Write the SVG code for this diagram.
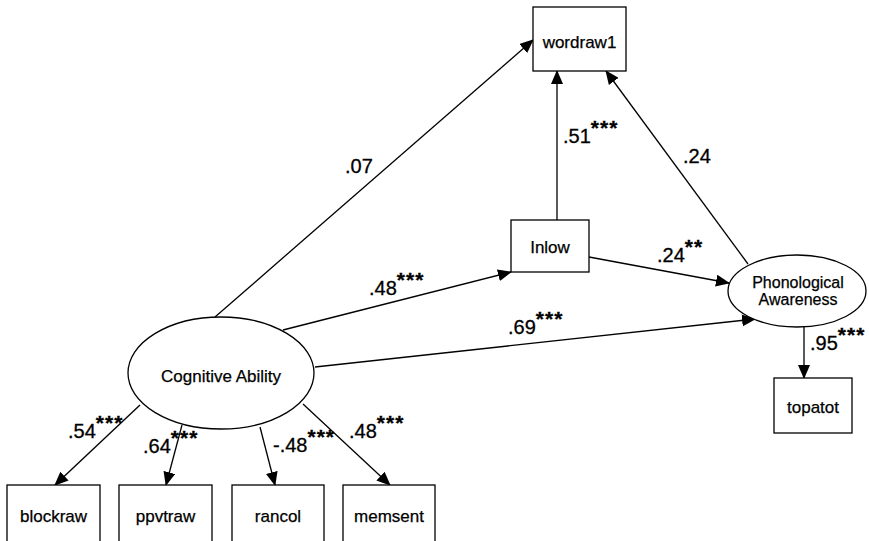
<svg xmlns="http://www.w3.org/2000/svg" width="869" height="541" viewBox="0 0 869 541">
<defs>
<marker id="ah" markerWidth="14" markerHeight="12" refX="13" refY="6" orient="auto" markerUnits="userSpaceOnUse"><path d="M0,0 L14,6 L0,12 z" fill="#000"/></marker>
</defs>
<style>
.box{fill:#fff;stroke:#000;stroke-width:1.3}
.nl{font-family:"Liberation Sans",Arial,sans-serif;font-size:17px;fill:#000;text-anchor:middle;stroke:#000;stroke-width:0.25}
.pl{font-family:"Liberation Sans",Arial,sans-serif;font-size:16px;fill:#000;text-anchor:middle;stroke:#000;stroke-width:0.25}
.el{font-family:"Liberation Sans",Arial,sans-serif;font-size:20px;fill:#000;stroke:#000;stroke-width:0.3}
.st{font-size:21px;letter-spacing:1px;font-weight:bold}
.cn line{stroke:#000;stroke-width:1.3;marker-end:url(#ah)}
</style>
<rect width="869" height="541" fill="#fff"/>
<g class="cn" id="connectors">
<line x1="215" y1="317" x2="533" y2="40"/>
<line x1="283" y1="330" x2="511" y2="272"/>
<line x1="315" y1="367" x2="755" y2="319"/>
<line x1="557" y1="220" x2="557" y2="71"/>
<line x1="748" y1="264" x2="606" y2="71"/>
<line x1="589" y1="257" x2="729" y2="283"/>
<line x1="804" y1="327" x2="804" y2="378"/>
<line x1="140" y1="405" x2="55" y2="485"/>
<line x1="182" y1="425" x2="166" y2="485"/>
<line x1="260" y1="427" x2="275" y2="485"/>
<line x1="303" y1="404" x2="390" y2="485"/>
</g>
<g id="edge-labels">
<text class="el" x="345" y="173">.07</text>
<text class="el" x="369" y="295">.48<tspan class="st" dy="-8">***</tspan></text>
<text class="el" x="508" y="334">.69<tspan class="st" dy="-8">***</tspan></text>
<text class="el" x="563" y="143">.51<tspan class="st" dy="-8">***</tspan></text>
<text class="el" x="683" y="163">.24</text>
<text class="el" x="657" y="262">.24<tspan class="st" dy="-8">**</tspan></text>
<text class="el" x="810" y="350">.95<tspan class="st" dy="-8">***</tspan></text>
<text class="el" x="68" y="438">.54<tspan class="st" dy="-8">***</tspan></text>
<text class="el" x="143" y="453">.64<tspan class="st" dy="-8">***</tspan></text>
<text class="el" x="273" y="452">-.48<tspan class="st" dy="-8">***</tspan></text>
<text class="el" x="349" y="438">.48<tspan class="st" dy="-8">***</tspan></text>
</g>
<g id="wordraw1"><rect class="box" x="533" y="7" width="93" height="64"/><text class="nl" x="579.5" y="48">wordraw1</text></g>
<g id="Inlow"><rect class="box" x="511" y="220" width="78" height="52"/><text class="nl" x="550" y="253">Inlow</text></g>
<g id="phonological"><ellipse class="box" cx="797" cy="291" rx="69" ry="36"/><text class="pl" x="798" y="288">Phonological</text><text class="pl" x="798" y="305">Awareness</text></g>
<g id="topatot"><rect class="box" x="774" y="378" width="78" height="55"/><text class="nl" x="813" y="413">topatot</text></g>
<g id="cognitive"><ellipse class="box" cx="221" cy="373" rx="93" ry="56"/><text class="nl" x="221" y="382">Cognitive Ability</text></g>
<g id="blockraw"><rect class="box" x="7" y="485" width="93" height="70"/><text class="nl" x="53.5" y="522">blockraw</text></g>
<g id="ppvtraw"><rect class="box" x="119" y="485" width="93" height="70"/><text class="nl" x="165.5" y="522">ppvtraw</text></g>
<g id="rancol"><rect class="box" x="232" y="485" width="92" height="70"/><text class="nl" x="278" y="522">rancol</text></g>
<g id="memsent"><rect class="box" x="343" y="485" width="92" height="70"/><text class="nl" x="389" y="522">memsent</text></g>
</svg>
